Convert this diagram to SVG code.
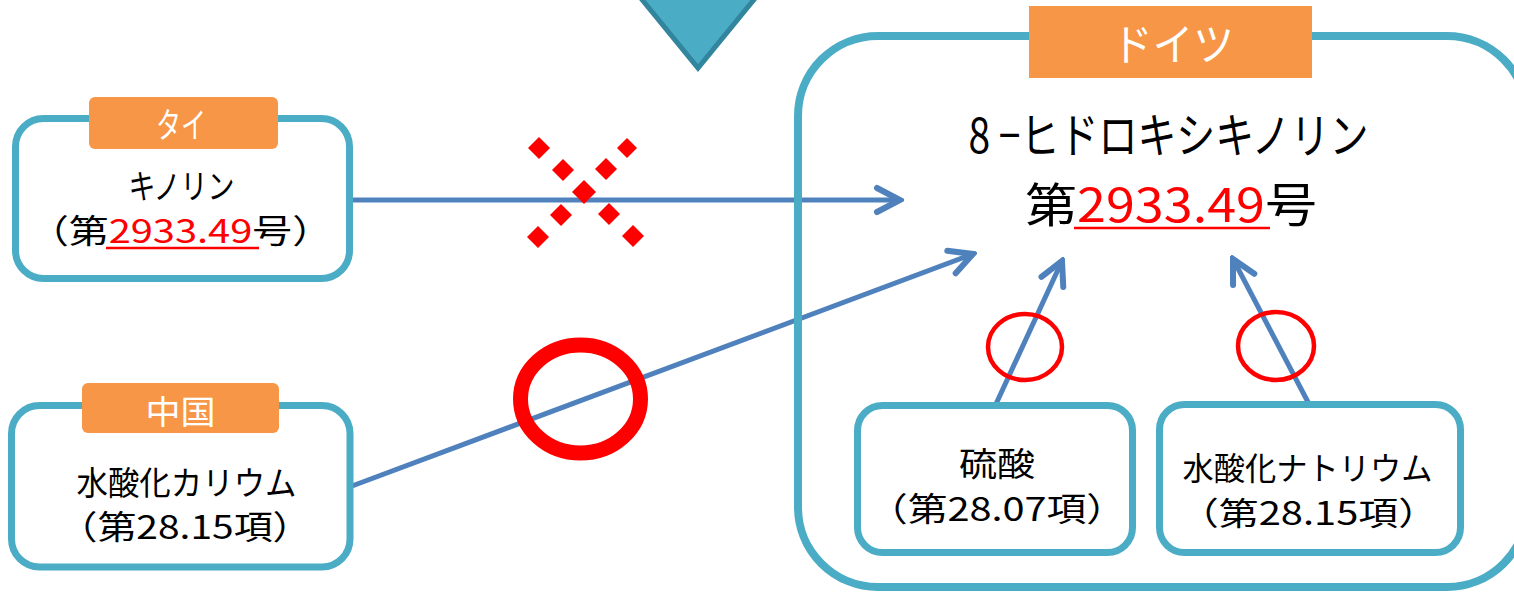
<svg xmlns="http://www.w3.org/2000/svg" width="1514" height="594" viewBox="0 0 1514 594">
<style>
.box{fill:#fff;stroke:#4BACC6;stroke-width:7}
.big{fill:none;stroke:#4BACC6;stroke-width:8}
.lbl{fill:#F79646}
.lt{fill:#fff;font-family:"Noto Sans CJK JP","Noto Sans",sans-serif;text-anchor:middle}
.t{fill:#000;font-family:"Noto Sans CJK JP","Noto Sans",sans-serif;text-anchor:middle}
.red{fill:#FF0000}
.ul{stroke:#FF0000;stroke-width:2.5}
.con{fill:none;stroke:#4F81BD;stroke-width:5;marker-end:url(#ah)}
.ok{fill:none;stroke:#FF0000}
.dia{fill:#FF0000}
</style>
<defs>
<marker id="ah" markerUnits="userSpaceOnUse" viewBox="-30 -16 34 32" refX="0" refY="0" markerWidth="34" markerHeight="32" orient="auto">
<path d="M-23,-12 L0,0 L-23,12" fill="none" stroke="#4F81BD" stroke-width="6" stroke-linecap="round" stroke-linejoin="miter"/>
</marker>
</defs>
<rect width="1514" height="594" fill="#fff"/>

<g id="triangle">
<polygon points="626,-20 770,-20 698,68" fill="#4BACC6" stroke="#31859C" stroke-width="5"/>
</g>

<g id="connectors">
<line class="con" x1="352" y1="200" x2="900" y2="200"/>
<line class="con" x1="352" y1="486" x2="973" y2="254"/>
<line class="con" x1="996" y1="404" x2="1062" y2="261"/>
<line class="con" x1="1309" y1="404" x2="1233" y2="259"/>
</g>

<g id="germany">
<rect class="big" x="798" y="36" width="729" height="551" rx="80"/>
<rect class="lbl" x="1029" y="6" width="283" height="72"/>
<text class="lt" x="1173" y="61" font-size="44" textLength="122" lengthAdjust="spacingAndGlyphs">ドイツ</text>
<text class="t" x="1168.5" y="153" font-size="48" textLength="400" lengthAdjust="spacingAndGlyphs">8 −ヒドロキシキノリン</text>
<text class="t" x="1171" y="222" font-size="47" textLength="292" lengthAdjust="spacingAndGlyphs">第<tspan class="red">2933.49</tspan>号</text>
<line class="ul" x1="1074" y1="228" x2="1270" y2="228"/>
</g>

<g id="thai">
<rect class="box" x="15.5" y="118.5" width="334" height="160" rx="28"/>
<rect class="lbl" x="89" y="97" width="189" height="52" rx="6"/>
<text class="lt" x="181" y="138" font-size="35" textLength="50" lengthAdjust="spacingAndGlyphs">タイ</text>
<text class="t" x="181.5" y="199" font-size="34" textLength="106" lengthAdjust="spacingAndGlyphs">キノリン</text>
<text class="t" x="180.5" y="243" font-size="33" textLength="303" lengthAdjust="spacingAndGlyphs">（第<tspan class="red">2933.49</tspan>号）</text>
<line class="ul" x1="106" y1="248" x2="259" y2="248"/>
</g>

<g id="china">
<rect class="box" x="11.5" y="405.5" width="338.5" height="161.5" rx="28"/>
<rect class="lbl" x="82" y="383" width="197" height="50" rx="6"/>
<text class="lt" x="180.5" y="424" font-size="33" textLength="70" lengthAdjust="spacingAndGlyphs">中国</text>
<text class="t" x="186.5" y="495" font-size="33" textLength="220" lengthAdjust="spacingAndGlyphs">水酸化カリウム</text>
<text class="t" x="185" y="539" font-size="33" textLength="253" lengthAdjust="spacingAndGlyphs">（第28.15項）</text>
</g>

<g id="sulfuric">
<rect class="box" x="857.5" y="405.5" width="275" height="147" rx="25"/>
<text class="t" x="997" y="476" font-size="33" textLength="76" lengthAdjust="spacingAndGlyphs">硫酸</text>
<text class="t" x="997" y="521" font-size="33" textLength="258" lengthAdjust="spacingAndGlyphs">（第28.07項）</text>
</g>

<g id="naoh">
<rect class="box" x="1159.5" y="404.5" width="301" height="148" rx="25"/>
<text class="t" x="1307.5" y="480" font-size="32" textLength="250" lengthAdjust="spacingAndGlyphs">水酸化ナトリウム</text>
<text class="t" x="1308.5" y="525" font-size="32" textLength="259" lengthAdjust="spacingAndGlyphs">（第28.15項）</text>
</g>

<g id="marks">
<ellipse class="ok" cx="580.5" cy="399" rx="60" ry="54" stroke-width="15"/>
<ellipse class="ok" cx="1025" cy="347" rx="37" ry="33" stroke-width="4.5"/>
<ellipse class="ok" cx="1276" cy="346" rx="38" ry="34" stroke-width="4.5"/>
<g id="cross">
<polygon class="dia" points="539,137 550,148 539,159 528,148"/>
<polygon class="dia" points="563,159 574,170 563,181 552,170"/>
<polygon class="dia" points="584,180 596,192 584,204 572,192"/>
<polygon class="dia" points="627,138 637,148 627,158 617,148"/>
<polygon class="dia" points="606,158 617,169 606,180 595,169"/>
<polygon class="dia" points="561,204 572,215 561,226 550,215"/>
<polygon class="dia" points="538,226 549,237 538,248 527,237"/>
<polygon class="dia" points="609,203 620,214 609,225 598,214"/>
<polygon class="dia" points="633,225 644,236 633,247 622,236"/>
</g>
</g>
</svg>
